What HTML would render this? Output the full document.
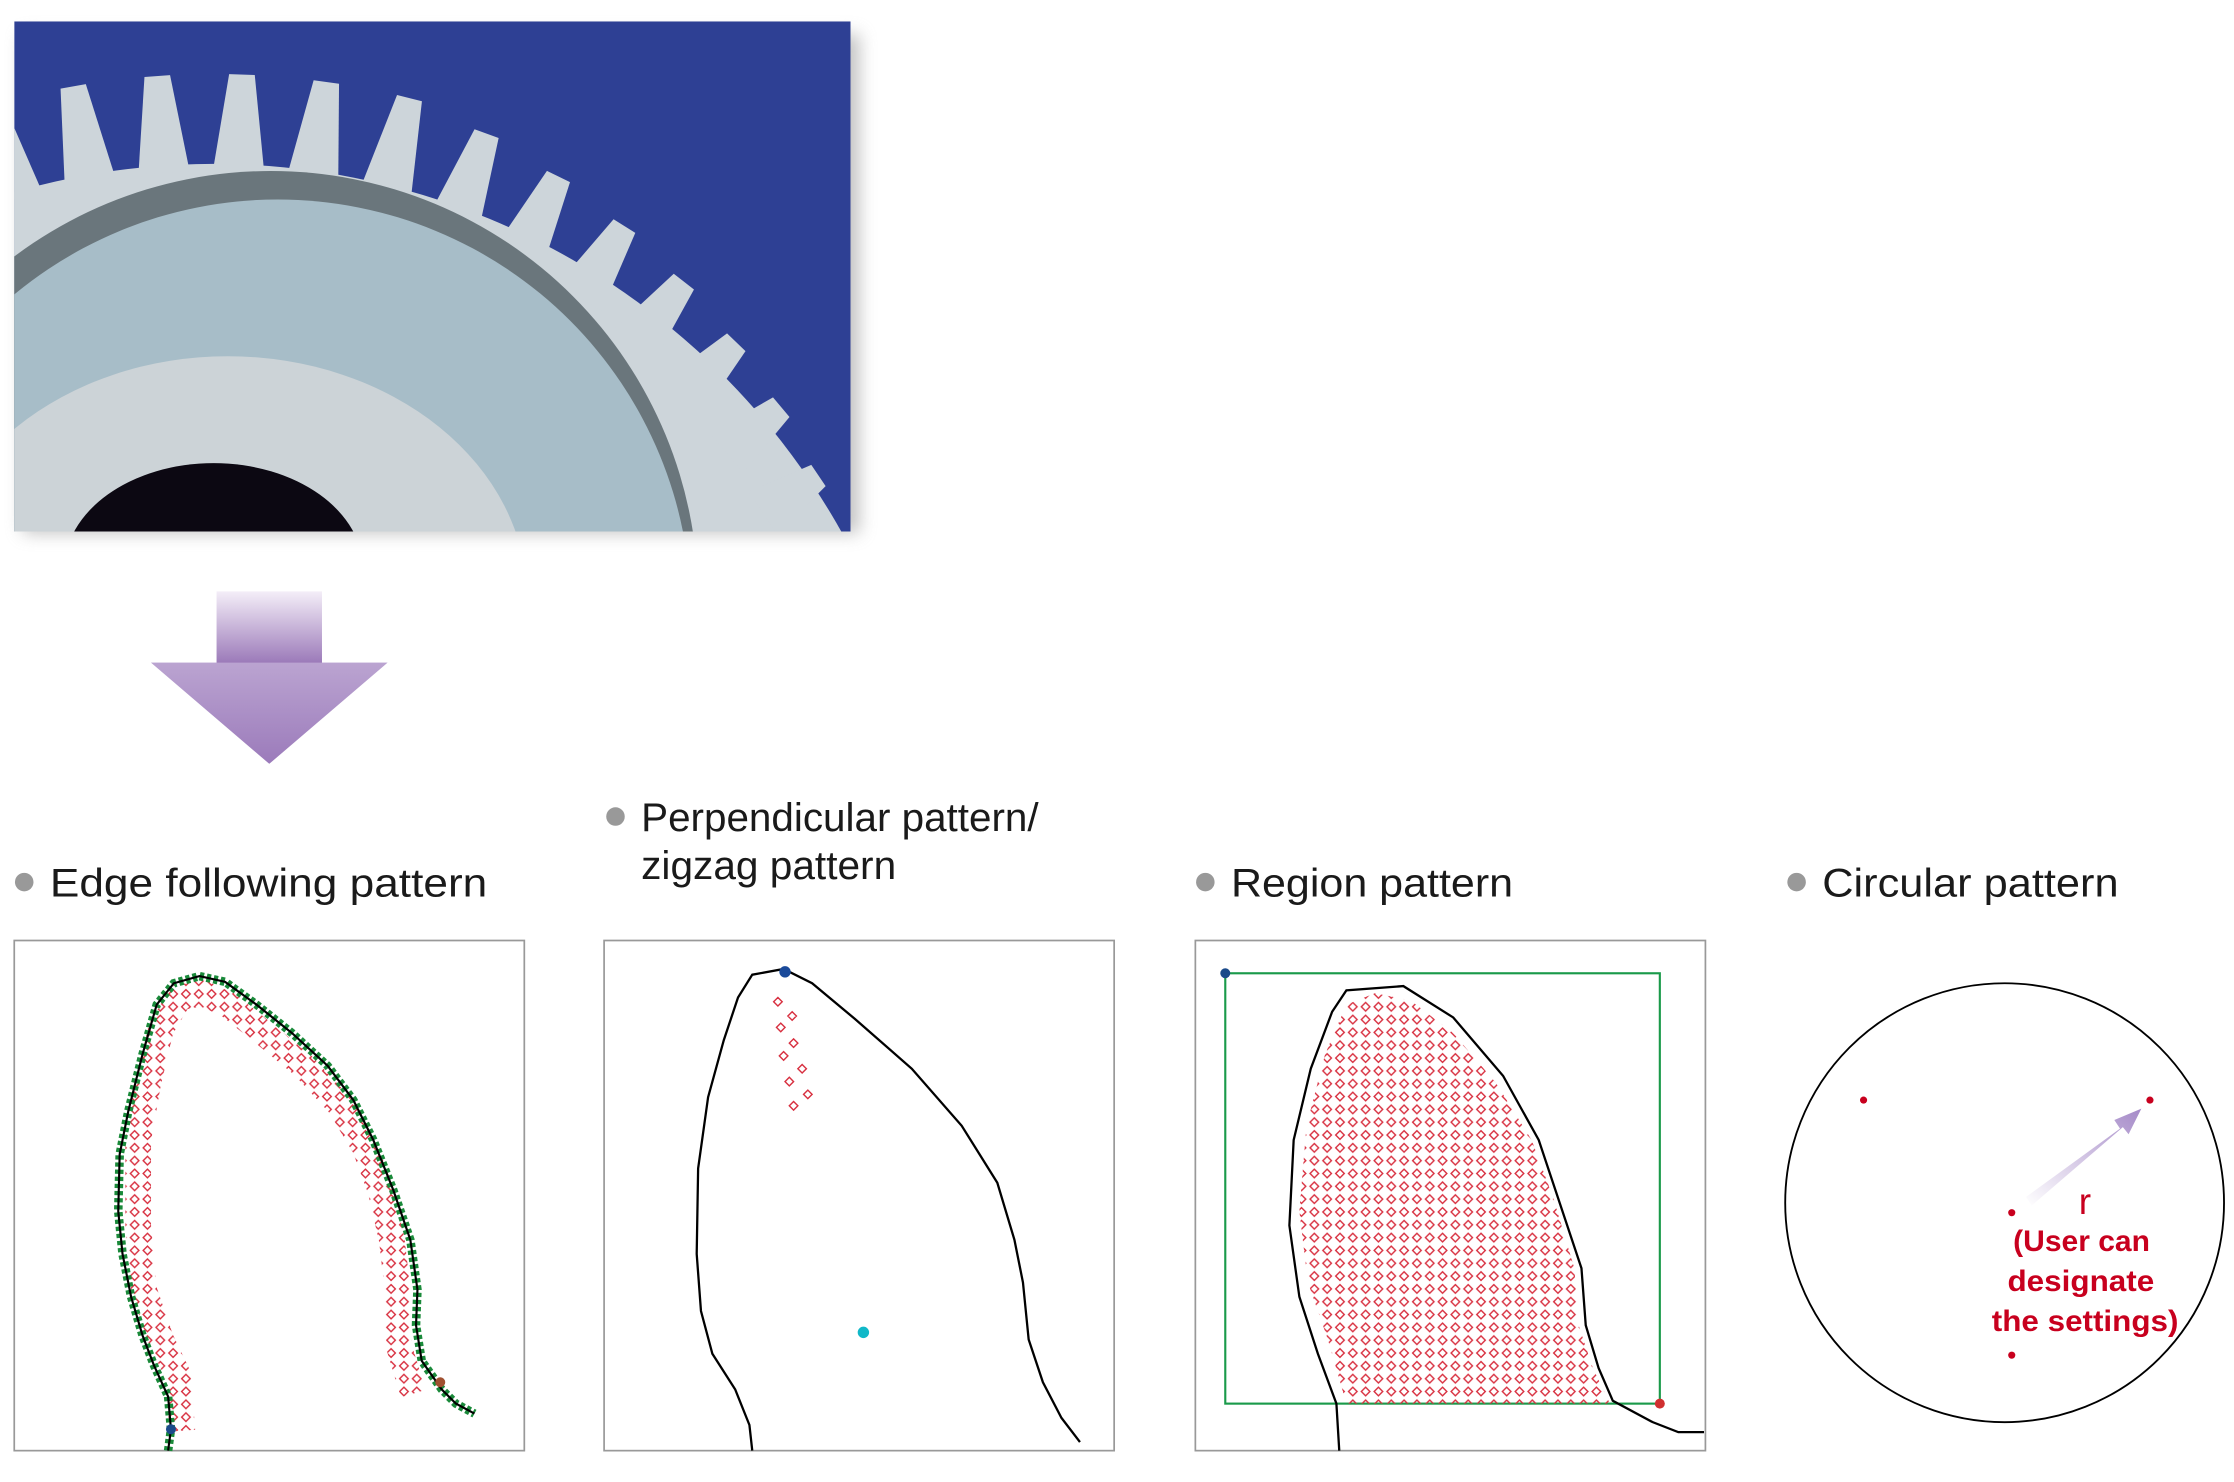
<!DOCTYPE html>
<html><head><meta charset="utf-8"><style>
html,body{margin:0;padding:0;background:#fff;overflow:hidden;width:2234px;height:1482px;position:relative;}
svg{display:block;position:absolute;left:0;top:0;}
text{font-family:"Liberation Sans",sans-serif;}
</style></head><body>
<svg width="2234" height="1482" viewBox="0 0 1568 1040" preserveAspectRatio="none" xmlns="http://www.w3.org/2000/svg">
<defs>
<filter id="sh" x="-10%" y="-10%" width="130%" height="130%"><feGaussianBlur stdDeviation="6"/></filter>
<clipPath id="ph"><rect x="10" y="15" width="587" height="358"/></clipPath>
<linearGradient id="ag" x1="0" y1="0" x2="0" y2="1"><stop offset="0" stop-color="#f4eef8"/><stop offset="1" stop-color="#9a78b8"/></linearGradient>
<linearGradient id="rg" x1="0" y1="1" x2="1" y2="0"><stop offset="0" stop-color="#fff"/><stop offset="1" stop-color="#a58ac8"/></linearGradient>
<pattern id="dm" width="9" height="9" patternUnits="userSpaceOnUse">
<path d="M4.5 1.5 L7.5 4.5 L4.5 7.5 L1.5 4.5Z" fill="none" stroke="#d83040" stroke-width="1"/>
</pattern>
</defs>
<rect x="16" y="24" width="587" height="350" fill="#999" filter="url(#sh)" opacity="0.6"/>
<g clip-path="url(#ph)">
<rect x="10" y="15" width="587" height="358" fill="#2e4094"/>
<g transform="translate(150,620)">
<circle r="505" fill="#cdd5da"/>
<g fill="#cdd5da">
<path d="M-18 -500 L-9 -568 L9 -568 L18 -500Z" transform="rotate(-16)"/>
<path d="M-18 -500 L-9 -568 L9 -568 L18 -500Z" transform="rotate(-10)"/>
<path d="M-18 -500 L-9 -568 L9 -568 L18 -500Z" transform="rotate(-4)"/>
<path d="M-18 -500 L-9 -568 L9 -568 L18 -500Z" transform="rotate(2)"/>
<path d="M-18 -500 L-9 -568 L9 -568 L18 -500Z" transform="rotate(8)"/>
<path d="M-18 -500 L-9 -568 L9 -568 L18 -500Z" transform="rotate(14)"/>
<path d="M-18 -495 L-9 -560 L9 -560 L18 -495Z" transform="rotate(20)"/>
<path d="M-18 -490 L-9 -552 L9 -552 L18 -490Z" transform="rotate(26)"/>
<path d="M-18 -485 L-9 -544 L9 -544 L18 -485Z" transform="rotate(32)"/>
<path d="M-18 -480 L-9 -536 L9 -536 L18 -480Z" transform="rotate(38)"/>
<path d="M-18 -475 L-9 -528 L9 -528 L18 -475Z" transform="rotate(44)"/>
<path d="M-18 -470 L-9 -520 L9 -520 L18 -470Z" transform="rotate(50)"/>
<path d="M-18 -465 L-9 -512 L9 -512 L18 -465Z" transform="rotate(56)"/>
<path d="M-18 -460 L-9 -504 L9 -504 L18 -460Z" transform="rotate(62)"/>
<path d="M-18 -455 L-9 -496 L9 -496 L18 -455Z" transform="rotate(68)"/>
</g>
</g>
<ellipse cx="190" cy="420" rx="300" ry="300" fill="#6a767c"/>
<ellipse cx="195" cy="430" rx="290" ry="290" fill="#a7bdc8"/>
<ellipse cx="160" cy="420" rx="210" ry="170" fill="#ccd3d7"/>
<ellipse cx="150" cy="400" rx="105" ry="75" fill="#0c0812"/>
</g>
<rect x="152" y="415" width="74" height="51" fill="url(#ag)"/>
<path d="M106 465 L272 465 L189 536Z" fill="#9c7cbc"/>
<path d="M106 465 L272 465 L189 536Z" fill="url(#ag)" opacity="0.35"/>
<g fill="#999"><circle cx="17" cy="619" r="6.5"/><circle cx="432" cy="573" r="6.5"/><circle cx="846" cy="619" r="6.5"/><circle cx="1261" cy="619" r="6.5"/></g>
<g font-size="28" fill="#1a1a1a">
<text x="35" y="629" textLength="307" lengthAdjust="spacingAndGlyphs">Edge following pattern</text>
<text x="450" y="583" textLength="279" lengthAdjust="spacingAndGlyphs">Perpendicular pattern/</text>
<text x="450" y="617" textLength="179" lengthAdjust="spacingAndGlyphs">zigzag pattern</text>
<text x="864" y="629" textLength="198" lengthAdjust="spacingAndGlyphs">Region pattern</text>
<text x="1279" y="629" textLength="208" lengthAdjust="spacingAndGlyphs">Circular pattern</text>
</g>
<g fill="none" stroke="#999" stroke-width="1.2">
<rect x="10" y="660" width="358" height="358"/>
<rect x="424" y="660" width="358" height="358"/>
<rect x="839" y="660" width="358" height="358"/>
</g>
<path d="M128 1004 L125 965 L113 940 L101 905 L97 860 L97 800 L104 760 L113 722 L126 700 L142 697 L160 705 L185 725 L213 748 L238 775 L256 805 L267 835 L275 870 L279 905 L280 945 L290 978" fill="none" stroke="url(#dm)" stroke-width="18"/>
<path d="M118 1018 L120 1003 L118 980 L108 958 L100 937 L92 910 L86 880 L83 850 L84 810 L90 780 L100 740 L110 705 L122 690 L140 685 L158 689 L180 705 L205 725 L230 748 L248 772 L262 800 L276 835 L288 870 L293 905 L292 930 L296 955 L303 965 L310 975 L320 985 L333 992" fill="none" stroke="#1a8a3a" stroke-width="6" stroke-dasharray="3 2"/>
<path d="M118 1018 L120 1003 L118 980 L108 958 L100 937 L92 910 L86 880 L83 850 L84 810 L90 780 L100 740 L110 705 L122 690 L140 685 L158 689 L180 705 L205 725 L230 748 L248 772 L262 800 L276 835 L288 870 L293 905 L292 930 L296 955 L303 965 L310 975 L320 985 L333 992" fill="none" stroke="#000" stroke-width="1.5"/>
<circle cx="120" cy="1003" r="3.5" fill="#1a4a8a"/><circle cx="309" cy="970" r="3.5" fill="#a05030"/>
<path d="M528 1018 L526 1000 L516 975 L500 950 L492 920 L489 880 L490 820 L497 770 L508 730 L518 700 L528 684 L550 680 L570 690 L600 715 L640 750 L675 790 L700 830 L712 870 L718 900 L722 940 L732 970 L745 995 L758 1012" fill="none" stroke="#000" stroke-width="1.6"/>
<g fill="none" stroke="#d83040" stroke-width="1"><path d="M546 700 l3 3 l-3 3 l-3 -3z M556 710 l3 3 l-3 3 l-3 -3z M548 718 l3 3 l-3 3 l-3 -3z M557 729 l3 3 l-3 3 l-3 -3z M550 738 l3 3 l-3 3 l-3 -3z M563 747 l3 3 l-3 3 l-3 -3z M554 756 l3 3 l-3 3 l-3 -3z M567 765 l3 3 l-3 3 l-3 -3z M557 773 l3 3 l-3 3 l-3 -3z"/></g>
<circle cx="551" cy="682" r="4" fill="#1a4a9a"/><circle cx="606" cy="935" r="4" fill="#10b8c8"/>
<rect x="860" y="683" width="305" height="302" fill="none" stroke="#1a9a4a" stroke-width="1.5"/>
<path d="M945 985 L932 940 L918 900 L912 850 L917 790 L930 740 L945 705 L965 697 L990 702 L1020 725 L1050 760 L1075 800 L1090 840 L1105 890 L1108 930 L1118 960 L1130 985Z" fill="url(#dm)"/>
<path d="M940 1018 L938 985 L925 950 L912 910 L905 860 L908 800 L920 750 L935 710 L945 695 L985 692 L1020 714 L1055 755 L1080 800 L1095 845 L1110 890 L1113 930 L1122 960 L1132 983 L1160 998 L1178 1005 L1196 1005" fill="none" stroke="#000" stroke-width="1.6"/>
<circle cx="860" cy="683" r="3.5" fill="#1a4a8a"/><circle cx="1165" cy="985" r="3.5" fill="#d03030"/>
<circle cx="1407" cy="844" r="154" fill="none" stroke="#000" stroke-width="1.3"/>
<path d="M1422 840 L1488 792 L1484 786 L1503 778 L1494 796 L1490 791 L1426 846Z" fill="url(#rg)"/>
<g fill="#c8001e"><circle cx="1308" cy="772" r="2.5"/><circle cx="1509" cy="772" r="2.5"/><circle cx="1412" cy="851" r="2.5"/><circle cx="1412" cy="951" r="2.5"/></g>
<g fill="#c8001e" font-size="21" font-weight="bold">
<text x="1459" y="852" font-size="26" font-weight="normal">r</text>
<text x="1413" y="878" textLength="96" lengthAdjust="spacingAndGlyphs">(User can</text>
<text x="1409" y="906" textLength="103" lengthAdjust="spacingAndGlyphs">designate</text>
<text x="1398" y="934" textLength="131" lengthAdjust="spacingAndGlyphs">the settings)</text>
</g>
</svg>
</body></html>
